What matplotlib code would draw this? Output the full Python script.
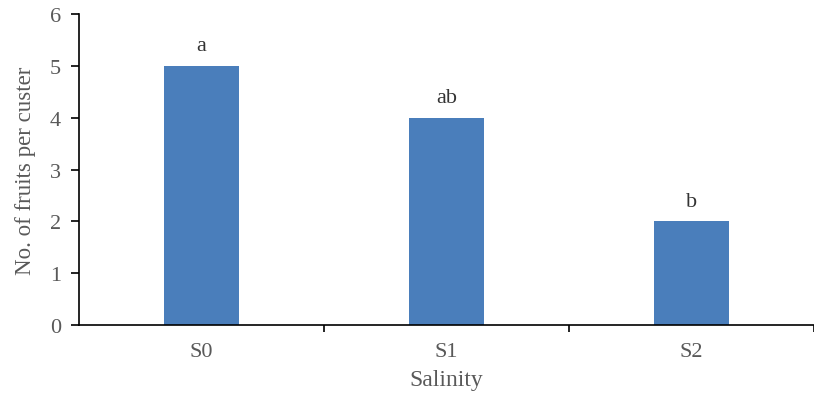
import numpy as np
import matplotlib.pyplot as plt

categories = ['S0', 'S1', 'S2']
fruits = [5, 4, 2]
letters = ['a', 'ab', 'b']

plt.rcParams['font.family'] = ['Liberation Serif', 'DejaVu Serif']

W, H = 814, 402
fig = plt.figure(figsize=(W / 100, H / 100), dpi=100)
ax = fig.add_axes([79 / W, (H - 326) / H, (W - 79) / W, (326 - 15) / H])

x = np.arange(len(categories))
ax.bar(x, fruits, width=0.31, color='#4a7ebb', zorder=2)
for xi, v, s in zip(x, fruits, letters):
    ax.text(xi, v + 0.2, s, ha='center', va='bottom', fontsize=16, color='#333333')

ax.set_xlim(-0.5, 2.5 - 4 / 246)
ax.set_ylim(0, 6)
ax.set_yticks(range(0, 7))
ax.set_xticks(x)
ax.set_xticklabels(categories)
ax.set_xticks([0.5, 1.5, 2.5], minor=True)

for side in ['top', 'right']:
    ax.spines[side].set_visible(False)
for side in ['left', 'bottom']:
    ax.spines[side].set_color('black')
    ax.spines[side].set_linewidth(1.2)

ax.tick_params(axis='y', direction='out', length=6, width=1.2, labelsize=16,
               labelcolor='#595959', pad=7)
ax.tick_params(axis='x', which='major', length=0, labelsize=16,
               labelcolor='#595959', pad=12)
ax.tick_params(axis='x', which='minor', direction='out', length=5, width=1.2)

ax.set_xlabel('Salinity', fontsize=17, color='#595959', labelpad=6)
ax.set_ylabel('No. of fruits per custer', fontsize=16.5, color='#595959', labelpad=10)

fig.savefig('out.png', dpi=100)
